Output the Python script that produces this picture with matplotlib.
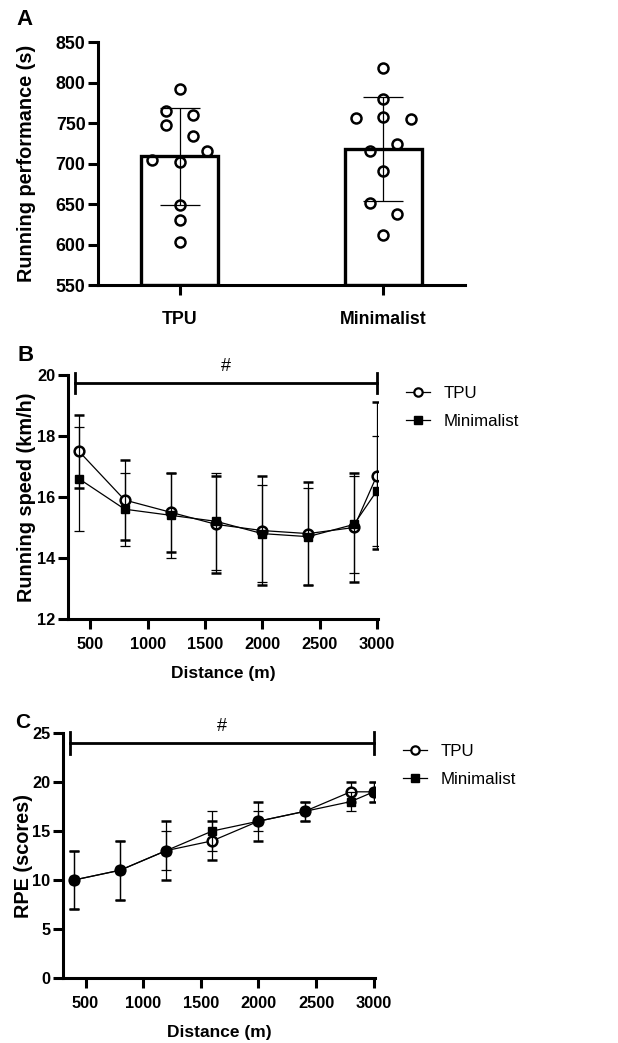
import numpy as np
import matplotlib.pyplot as plt
from matplotlib.lines import Line2D

plt.rcParams['font.family'] = ['Liberation Sans', 'DejaVu Sans']

# panel A: running performance per shoe
shoe_names = ["TPU", "Minimalist"]
perf_mean = [709, 718]
perf_sd = [60, 64]
tpu_perf = [792, 765, 760, 747, 734, 716, 704, 702, 649, 630, 603]
tpu_col = [0, -1, 1, -1, 1, 2, -2, 0, 0, 0, 0]
mini_perf = [818, 780, 756, 757, 755, 724, 716, 691, 651, 638, 612]
mini_col = [0, 0, -2, 0, 2, 1, -1, 0, -1, 1, 0]

# panels B and C: per 400 m split
distance = [400, 800, 1200, 1600, 2000, 2400, 2800, 3000]
speed_tpu = [17.5, 15.9, 15.5, 15.1, 14.9, 14.8, 15.0, 16.7]
speed_tpu_sd = [1.2, 1.3, 1.3, 1.6, 1.8, 1.7, 1.8, 2.4]
speed_mini = [16.6, 15.6, 15.4, 15.2, 14.8, 14.7, 15.1, 16.2]
speed_mini_sd = [1.7, 1.2, 1.4, 1.6, 1.6, 1.6, 1.6, 1.8]
rpe_tpu = [10, 11, 13, 14, 16, 17, 19, 19]
rpe_tpu_sd = [3, 3, 3, 2, 2, 1, 1, 1]
rpe_mini = [10, 11, 13, 15, 16, 17, 18, 19]
rpe_mini_sd = [3, 3, 2, 2, 1, 1, 1, 1]

TICK_A = 12.8
TICK = 11.8
YLAB = 14.3
XLAB = 12.5
SPINE = 2.2

def style_axes(ax, size):
    for s in ['top', 'right']:
        ax.spines[s].set_visible(False)
    for s in ['left', 'bottom']:
        ax.spines[s].set_linewidth(SPINE)
    ax.tick_params(width=SPINE, length=7, labelsize=size, pad=2)
    for lab in ax.get_xticklabels() + ax.get_yticklabels():
        lab.set_fontweight('bold')

fig = plt.figure(figsize=(6.18, 10.43), dpi=100)

# ---- A ----
axA = fig.add_axes([0.1586, 0.7267, 0.5938, 0.2330])
xpos = np.arange(len(shoe_names))
axA.bar(xpos, np.array(perf_mean) - 550, bottom=550, width=0.38,
        color='white', edgecolor='black', linewidth=SPINE + 0.2, zorder=1)
axA.errorbar(xpos, perf_mean, yerr=perf_sd, fmt='none', ecolor='black',
             elinewidth=0.9, capsize=14.5, capthick=0.9, zorder=2)
step = 0.067
axA.plot(0 + np.array(tpu_col) * step, tpu_perf, 'o', ms=7.2, mfc='none',
         mec='black', mew=1.8, zorder=3)
axA.plot(1 + np.array(mini_col) * step, mini_perf, 'o', ms=7.2, mfc='none',
         mec='black', mew=1.8, zorder=3)
axA.set_xlim(-0.4, 1.4)
axA.set_ylim(550, 850)
axA.set_yticks(range(550, 851, 50))
axA.set_xticks(xpos)
axA.set_xticklabels(shoe_names)
axA.set_ylabel("Running performance (s)", fontsize=YLAB, fontweight='bold')
axA.yaxis.set_label_coords(-0.169, 0.5)
style_axes(axA, TICK_A)
axA.tick_params(axis='x', pad=12)
fig.text(0.027, 0.981, "A", fontsize=16, fontweight='bold', va='center')

legend_handles = [
    Line2D([], [], color='black', lw=0.9, marker='o', ms=6, mfc='white',
           mec='black', mew=1.6),
    Line2D([], [], color='black', lw=0.9, marker='s', ms=6, mfc='black',
           mec='black'),
]


def line_panel(ax, tpu, tpu_sd, mini, mini_sd, bar_y, bar_h):
    ax.errorbar(distance, tpu, yerr=tpu_sd, color='black', lw=0.9,
                elinewidth=0.9, capsize=3.5, capthick=0.9, marker='o',
                ms=7, mfc='white', mec='black', mew=1.8, zorder=3)
    ax.errorbar(distance, mini, yerr=mini_sd, color='black', lw=0.9,
                elinewidth=0.9, capsize=3.5, capthick=0.9, marker='s',
                ms=6, mfc='black', mec='black', zorder=4)
    ax.set_xlim(305, 3012)
    ax.set_xticks(range(500, 3001, 500))
    ax.set_xlabel("Distance (m)", fontsize=XLAB, fontweight='bold',
                  labelpad=10)
    # significance bracket
    ax.plot([362, 3000], [bar_y, bar_y], color='black', lw=2, clip_on=False)
    for xe in [362, 3000]:
        ax.plot([xe, xe], [bar_y - bar_h, bar_y + bar_h], color='black',
                lw=2, clip_on=False)
    ax.annotate("#", xy=(1685, bar_y), xytext=(0, 12),
                textcoords='offset points', fontsize=13, ha='center',
                va='center', annotation_clip=False)
    ax.legend(legend_handles, ["TPU", "Minimalist"], loc='upper left',
              bbox_to_anchor=(1.04, 1.017), frameon=False, fontsize=12.2,
              handlelength=1.4, handletextpad=0.8, labelspacing=0.75)


# ---- B ----
axB = fig.add_axes([0.110, 0.4065, 0.502, 0.2340])
line_panel(axB, speed_tpu, speed_tpu_sd, speed_mini, speed_mini_sd, 19.74, 0.33)
axB.set_ylim(12, 20)
axB.set_yticks(range(12, 21, 2))
axB.set_ylabel("Running speed (km/h)", fontsize=YLAB, fontweight='bold')
axB.yaxis.set_label_coords(-0.103, 0.5)
style_axes(axB, TICK)
axB.tick_params(axis='x', pad=6)
fig.text(0.029, 0.659, "B", fontsize=16, fontweight='bold', va='center')

# ---- C ----
axC = fig.add_axes([0.102, 0.0623, 0.505, 0.2349])
line_panel(axC, rpe_tpu, rpe_tpu_sd, rpe_mini, rpe_mini_sd, 24, 1.1)
axC.set_ylim(0, 25)
axC.set_yticks(range(0, 26, 5))
axC.set_ylabel("RPE (scores)", fontsize=YLAB, fontweight='bold')
axC.yaxis.set_label_coords(-0.096, 0.5)
style_axes(axC, TICK)
axC.tick_params(axis='x', pad=6)
fig.text(0.024, 0.307, "C", fontsize=15, fontweight='bold', va='center')

fig.savefig("out.png", dpi=100)
